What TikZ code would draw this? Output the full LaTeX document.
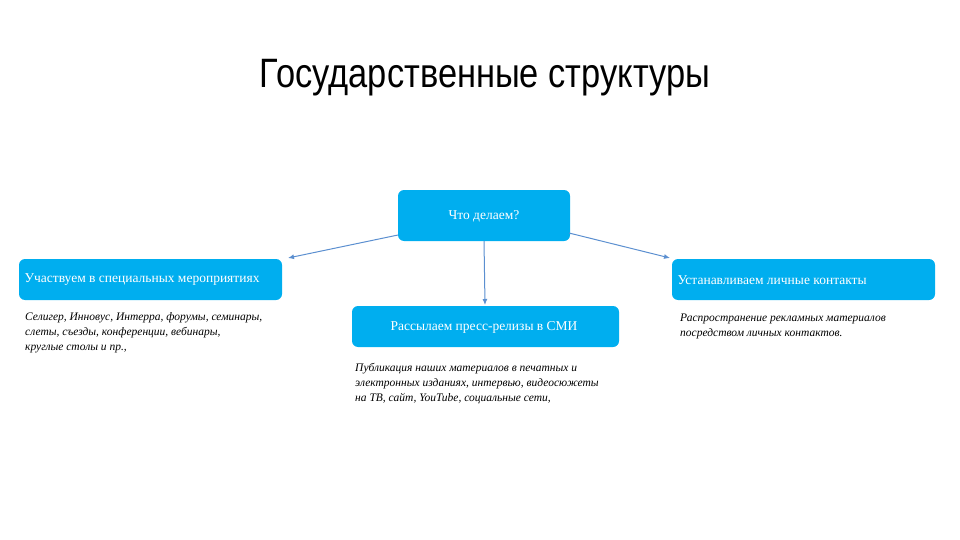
\documentclass[tikz,border=0pt]{standalone}
\usepackage{fontspec}
\setmainfont{Liberation Serif}
\newfontfamily\titlefont{Liberation Sans}
\usetikzlibrary{arrows.meta}
\definecolor{boxblue}{HTML}{00AEEF}
\definecolor{arrblue}{HTML}{5B8FD0}
\tikzset{
 box/.style={fill=boxblue, rounded corners=6pt},
 btext/.style={text=white, font=\fontsize{13.5}{16}\selectfont},
 note/.style={anchor=north west, align=left, font=\itshape\fontsize{11.5}{15}\selectfont, inner sep=0pt},
 arr/.style={draw=arrblue, line width=1pt, -{Latex[length=6pt,width=5pt]}}
}
\begin{document}
\begin{tikzpicture}[x=1pt,y=-1pt]
\useasboundingbox (0,0) rectangle (960,540);
\node (title) at (485,78) {\titlefont\fontsize{41}{46}\selectfont\addfontfeature{FakeStretch=0.84}Государственные структуры};
\fill[box] (398,190) rectangle (570,241);
\node (top) [btext] at (484,216) {Что делаем?};
\fill[box] (19,259) rectangle (282,300);
\node (left) [btext,anchor=west] at (21,280) {Участвуем в специальных мероприятиях};
\fill[box] (352,306) rectangle (619,347);
\node (mid) [btext] at (484,327) {Рассылаем пресс-релизы в СМИ};
\fill[box] (672,259) rectangle (935,300);
\node (right) [btext,anchor=west] at (674,280) {Устанавливаем личные контакты};
\coordinate (tl) at (398,235); \coordinate (le) at (288,258);
\coordinate (tb) at (484,241); \coordinate (me) at (485,305);
\coordinate (tr) at (569,233); \coordinate (re) at (670,258);
\draw[arr] (tl) -- (le);
\draw[arr] (tb) -- (me);
\draw[arr] (tr) -- (re);
\node (n1) [note] at (25,312) {Селигер, Инновус, Интерра, форумы, семинары,\\слеты, съезды, конференции, вебинары,\\круглые столы и пр.,};
\node (n2) [note] at (355,363) {Публикация наших материалов в печатных и\\электронных изданиях, интервью, видеосюжеты\\на ТВ, сайт, YouTube, социальные сети,};
\node (n3) [note] at (680,314) {Распространение рекламных материалов\\посредством личных контактов.};
\end{tikzpicture}
\end{document}
